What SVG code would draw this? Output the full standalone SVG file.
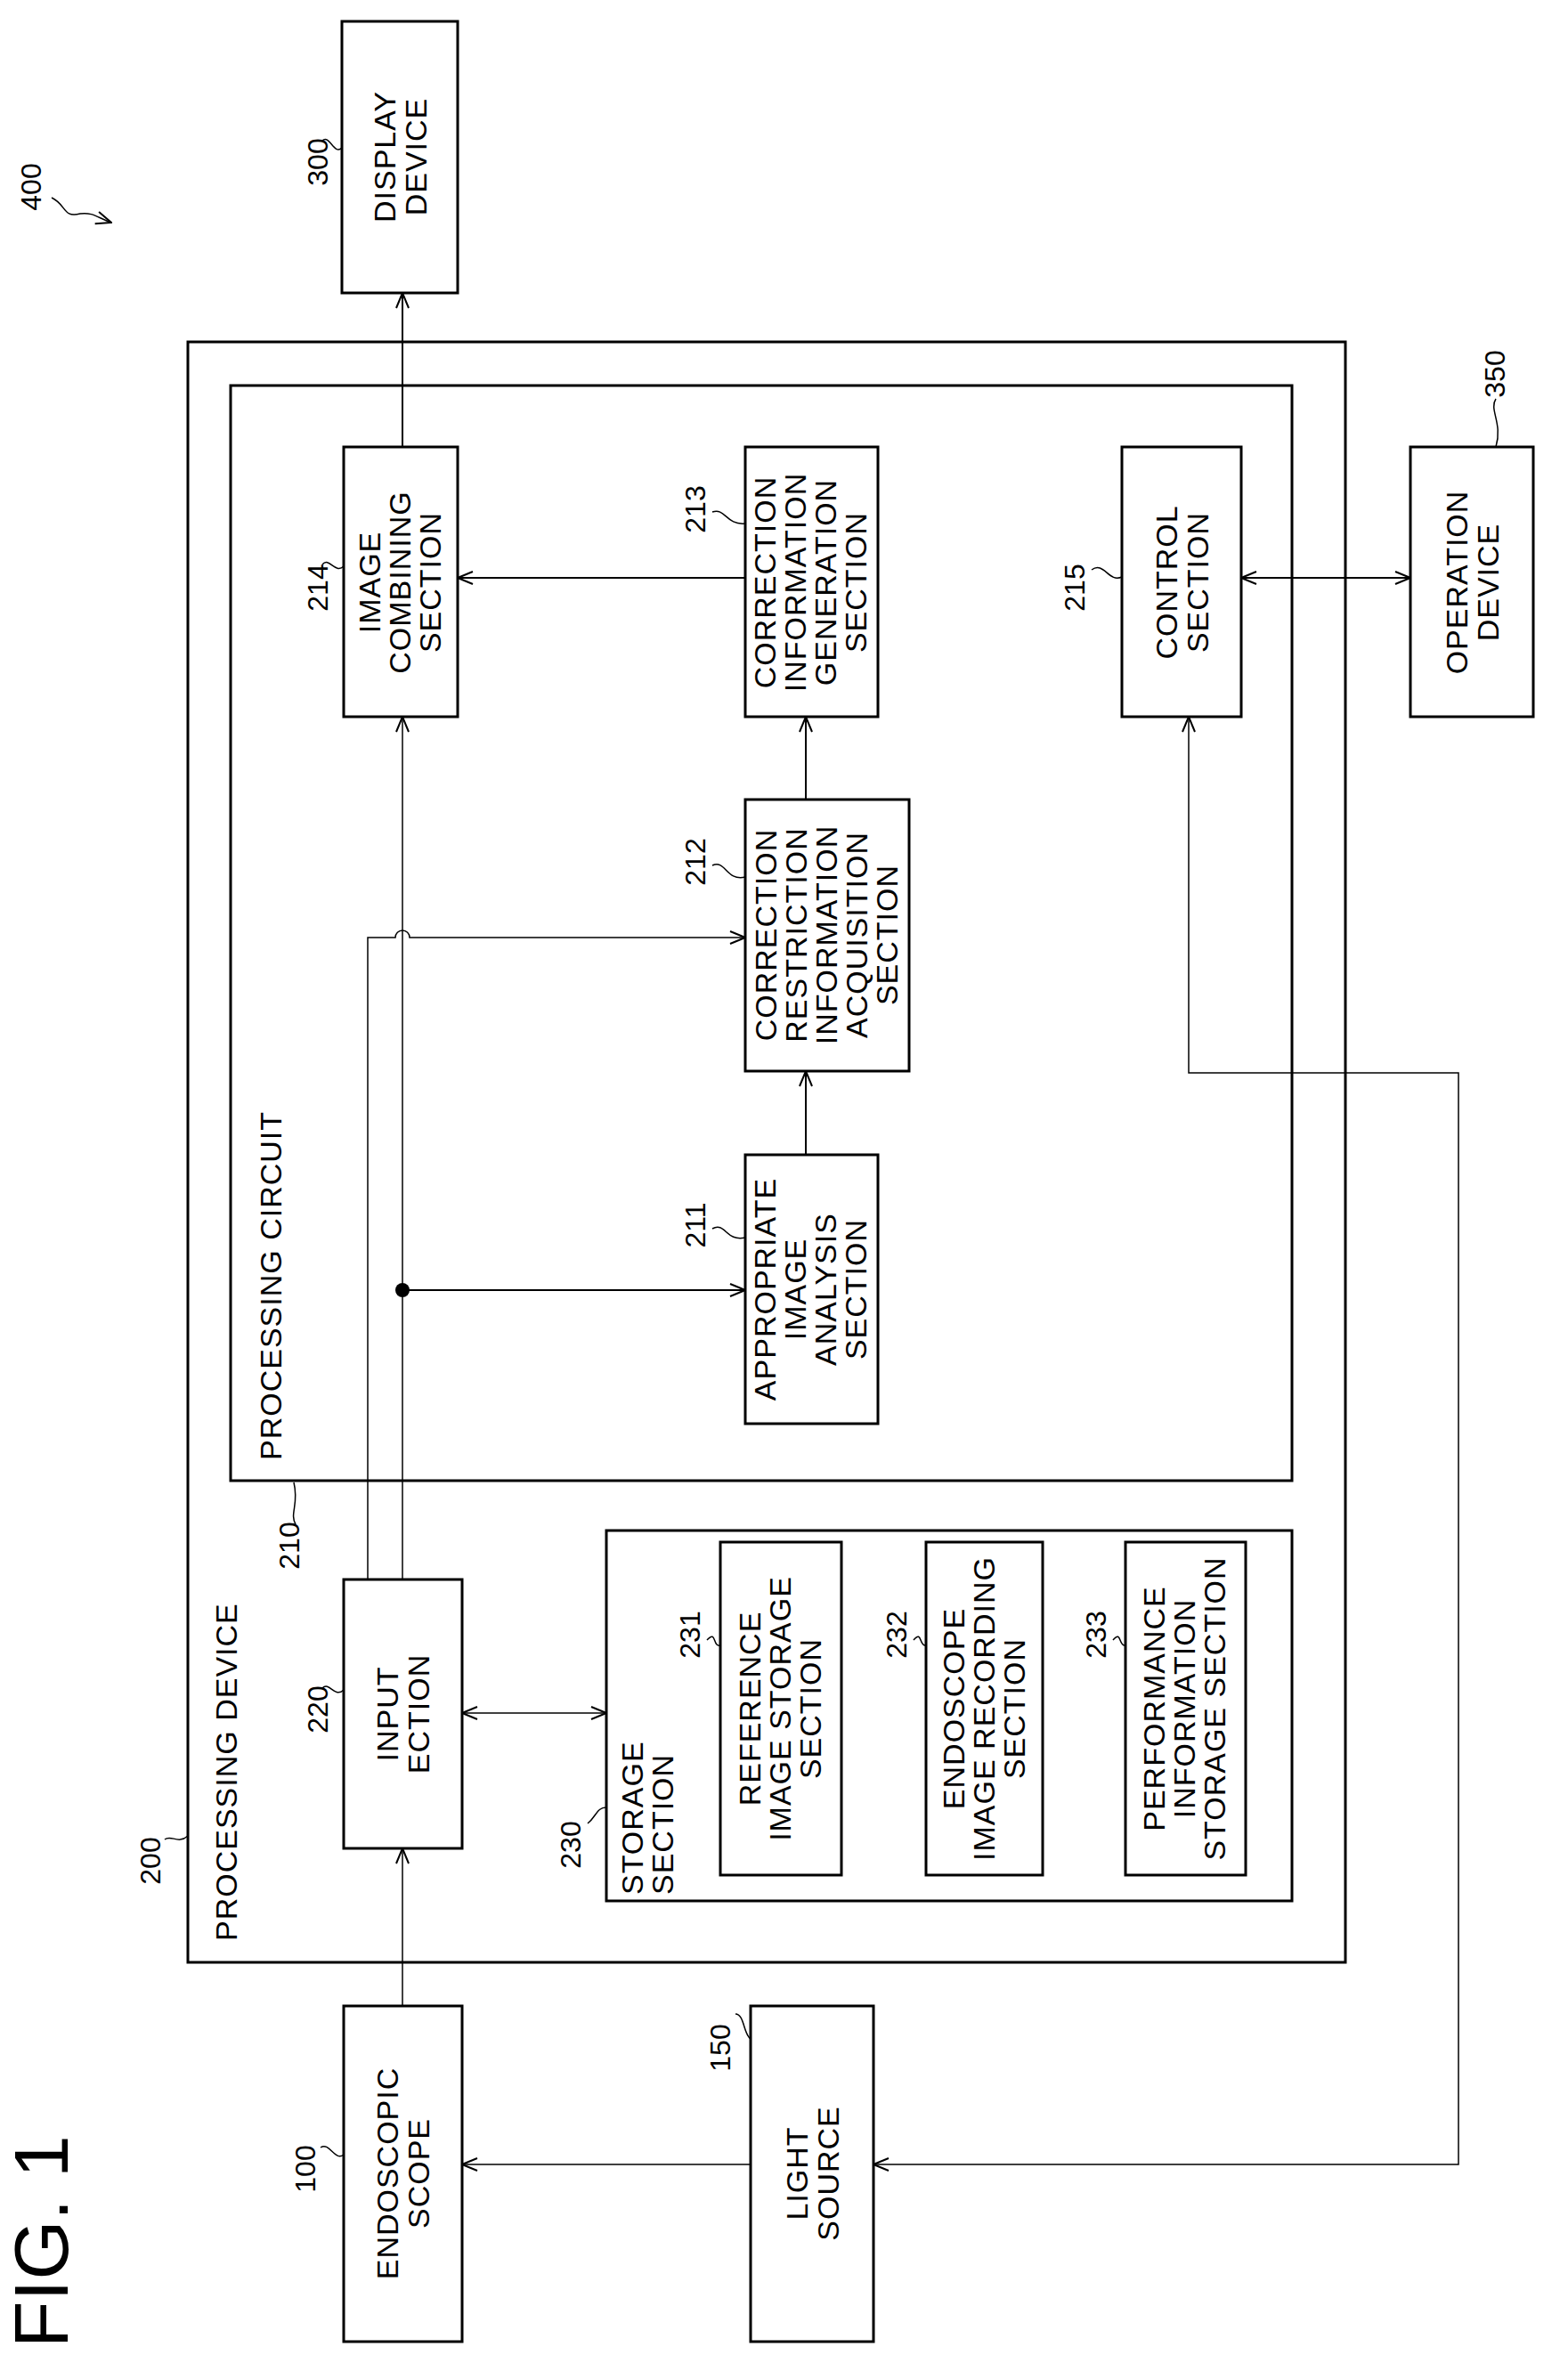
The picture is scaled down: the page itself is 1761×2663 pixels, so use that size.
<svg xmlns="http://www.w3.org/2000/svg" width="1761" height="2663" viewBox="0 0 1761 2663">
<style>
rect{fill:none;stroke:#000;stroke-width:3}
.c{fill:none;stroke:#000;stroke-width:2}
.l{fill:none;stroke:#000;stroke-width:1.5}
text{font-family:"Liberation Sans",Arial,sans-serif;font-size:32px;fill:#000}
.t{text-anchor:middle}
.n{font-size:34px;letter-spacing:1px}
</style>
<defs>
<marker id="a" viewBox="0 0 20 20" refX="19" refY="10" markerWidth="20" markerHeight="20" markerUnits="userSpaceOnUse" orient="auto-start-reverse"><path d="M2,3 L19,10 L2,17" fill="none" stroke="#000" stroke-width="2"/></marker>
</defs>
<rect x="0" y="0" width="1761" height="2663" style="fill:#fff;stroke:none"/>
<g id="n400"><text transform="translate(46,210) rotate(-90)" class="t">400</text><path class="l" d="M58,222 C75,230 70,245 90,240 C105,238 110,245 125,250" marker-end="url(#a)"/></g>
<g id="n300"><rect x="384" y="24" width="130" height="305"/><text transform="translate(449,176) rotate(-90)" class="t n"><tspan x="0" y="-5">DISPLAY</tspan><tspan x="0" y="30">DEVICE</tspan></text><text transform="translate(368,182) rotate(-90)" class="t">300</text><path class="l" d="M362,158 C370,150 375,175 384,166"/></g>
<g id="n200"><rect x="211" y="384" width="1300" height="1820"/><text transform="translate(266,2180) rotate(-90)" class="n">PROCESSING DEVICE</text><text transform="translate(180,2090) rotate(-90)" class="t">200</text><path class="l" d="M185,2066 C192,2060 200,2072 211,2062"/></g>
<g id="n210"><rect x="259" y="433" width="1192" height="1230"/><text transform="translate(316,1640) rotate(-90)" class="n">PROCESSING CIRCUIT</text><text transform="translate(336,1736) rotate(-90)" class="t">210</text><path class="l" d="M332,1712 C325,1700 336,1690 330,1665"/></g>
<g id="n214"><rect x="386" y="502" width="128" height="303"/><text transform="translate(450,654) rotate(-90)" class="t n"><tspan x="0" y="-23">IMAGE</tspan><tspan x="0" y="11">COMBINING</tspan><tspan x="0" y="45">SECTION</tspan></text><text transform="translate(368,660) rotate(-90)" class="t">214</text><path class="l" d="M362,634 C370,625 376,645 386,636"/></g>
<g id="n213"><rect x="837" y="502" width="149" height="303"/><text transform="translate(911,654) rotate(-90)" class="t n"><tspan x="0" y="-40">CORRECTION</tspan><tspan x="0" y="-6">INFORMATION</tspan><tspan x="0" y="28">GENERATION</tspan><tspan x="0" y="62">SECTION</tspan></text><text transform="translate(792,572) rotate(-90)" class="t">213</text><path class="l" d="M800,575 C815,570 815,590 837,588"/></g>
<g id="n215"><rect x="1260" y="502" width="134" height="303"/><text transform="translate(1327,654) rotate(-90)" class="t n"><tspan x="0" y="-5">CONTROL</tspan><tspan x="0" y="30">SECTION</tspan></text><text transform="translate(1218,660) rotate(-90)" class="t">215</text><path class="l" d="M1226,640 C1240,630 1245,655 1260,648"/></g>
<g id="n350"><rect x="1584" y="502" width="138" height="303"/><text transform="translate(1653,654) rotate(-90)" class="t n"><tspan x="0" y="-5">OPERATION</tspan><tspan x="0" y="30">DEVICE</tspan></text><text transform="translate(1690,420) rotate(-90)" class="t">350</text><path class="l" d="M1680,448 C1672,460 1688,475 1680,502"/></g>
<g id="n212"><rect x="837" y="898" width="184" height="305"/><text transform="translate(929,1050) rotate(-90)" class="t n"><tspan x="0" y="-57">CORRECTION</tspan><tspan x="0" y="-23">RESTRICTION</tspan><tspan x="0" y="11">INFORMATION</tspan><tspan x="0" y="45">ACQUISITION</tspan><tspan x="0" y="79">SECTION</tspan></text><text transform="translate(792,968) rotate(-90)" class="t">212</text><path class="l" d="M800,972 C815,965 815,990 837,985"/></g>
<g id="n211"><rect x="837" y="1297" width="149" height="302"/><text transform="translate(911,1448) rotate(-90)" class="t n"><tspan x="0" y="-40">APPROPRIATE</tspan><tspan x="0" y="-6">IMAGE</tspan><tspan x="0" y="28">ANALYSIS</tspan><tspan x="0" y="62">SECTION</tspan></text><text transform="translate(792,1376) rotate(-90)" class="t">211</text><path class="l" d="M800,1380 C815,1372 815,1395 837,1390"/></g>
<g id="n220"><rect x="386" y="1774" width="133" height="302"/><text transform="translate(452,1925) rotate(-90)" class="t n"><tspan x="0" y="-5">INPUT</tspan><tspan x="0" y="30">ECTION</tspan></text><text transform="translate(368,1920) rotate(-90)" class="t">220</text><path class="l" d="M362,1896 C370,1888 376,1908 386,1898"/></g>
<g id="n230"><rect x="681" y="1719" width="770" height="416"/><text transform="translate(722,2128) rotate(-90)" class="n"><tspan x="0" y="0">STORAGE</tspan><tspan x="0" y="34">SECTION</tspan></text><text transform="translate(652,2072) rotate(-90)" class="t">230</text><path class="l" d="M660,2048 C670,2040 670,2030 681,2030"/></g>
<g id="n231"><rect x="809" y="1732" width="136" height="374"/><text transform="translate(877,1919) rotate(-90)" class="t n"><tspan x="0" y="-23">REFERENCE</tspan><tspan x="0" y="11">IMAGE STORAGE</tspan><tspan x="0" y="45">SECTION</tspan></text><text transform="translate(786,1836) rotate(-90)" class="t">231</text><path class="l" d="M794,1842 C805,1830 800,1850 809,1848"/></g>
<g id="n232"><rect x="1040" y="1732" width="131" height="374"/><text transform="translate(1106,1919) rotate(-90)" class="t n"><tspan x="0" y="-23">ENDOSCOPE</tspan><tspan x="0" y="11">IMAGE RECORDING</tspan><tspan x="0" y="45">SECTION</tspan></text><text transform="translate(1018,1836) rotate(-90)" class="t">232</text><path class="l" d="M1026,1842 C1036,1830 1032,1850 1040,1848"/></g>
<g id="n233"><rect x="1264" y="1732" width="135" height="374"/><text transform="translate(1331,1919) rotate(-90)" class="t n"><tspan x="0" y="-23">PERFORMANCE</tspan><tspan x="0" y="11">INFORMATION</tspan><tspan x="0" y="45">STORAGE SECTION</tspan></text><text transform="translate(1242,1836) rotate(-90)" class="t">233</text><path class="l" d="M1250,1842 C1260,1830 1256,1850 1264,1848"/></g>
<g id="n100"><rect x="386" y="2253" width="133" height="377"/><text transform="translate(452,2441) rotate(-90)" class="t n"><tspan x="0" y="-5">ENDOSCOPIC</tspan><tspan x="0" y="30">SCOPE</tspan></text><text transform="translate(354,2436) rotate(-90)" class="t">100</text><path class="l" d="M360,2412 C370,2405 376,2428 386,2420"/></g>
<g id="n150"><rect x="843" y="2253" width="138" height="377"/><text transform="translate(912,2441) rotate(-90)" class="t n"><tspan x="0" y="-5">LIGHT</tspan><tspan x="0" y="30">SOURCE</tspan></text><text transform="translate(820,2300) rotate(-90)" class="t">150</text><path class="l" d="M826,2262 C836,2262 835,2285 843,2290"/></g>
<g id="fig"><text transform="translate(76,2637) rotate(-90)" style="font-size:86px">FIG. 1</text></g>
<g id="connectors">
<path class="c" d="M452,502 V329" marker-end="url(#a)"/>
<path class="c" d="M837,649 H514" marker-end="url(#a)"/>
<path class="c" d="M1394,649 H1584" marker-start="url(#a)" marker-end="url(#a)"/>
<path class="c" d="M905,898 V805" marker-end="url(#a)"/>
<path class="c" d="M905,1297 V1203" marker-end="url(#a)"/>
<path class="l" d="M452,1774 V805" marker-end="url(#a)"/>
<path class="l" d="M413,1774 V1053 H444 A8,8 0 0 1 460,1053 H837" marker-end="url(#a)"/>
<circle cx="452" cy="1449" r="8" fill="#000"/>
<path class="c" d="M452,1449 H837" marker-end="url(#a)"/>
<path class="l" d="M452,2253 V2076" marker-end="url(#a)"/>
<path class="l" d="M519,1924 H681" marker-start="url(#a)" marker-end="url(#a)"/>
<path class="l" d="M843,2431 H519" marker-end="url(#a)"/>
<path class="l" d="M1335,805 V1205 H1638 V2431 H981" marker-start="url(#a)" marker-end="url(#a)"/>
</g>
</svg>
